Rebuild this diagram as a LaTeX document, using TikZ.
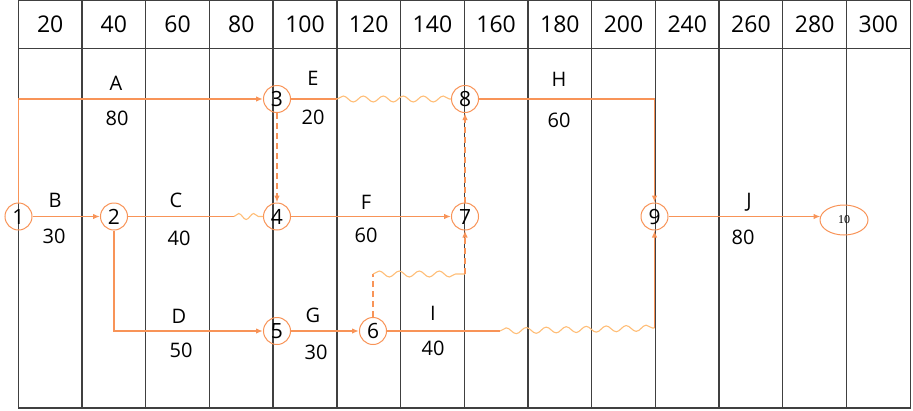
\documentclass[tikz,border=0pt]{standalone}
\usepackage{fontspec}
\setmainfont{Open Sans}
\newfontfamily\serifsmall{Liberation Serif}
\usetikzlibrary{decorations.pathmorphing,shapes.geometric,arrows.meta}
\definecolor{edgeor}{RGB}{248,148,88}
\definecolor{waveor}{RGB}{255,190,120}
\definecolor{gridc}{RGB}{64,64,64}
\begin{document}
\begin{tikzpicture}[x=1pt,y=-1pt,
  ev/.style={circle,draw=edgeor,line width=1pt,minimum size=27pt,inner sep=0pt,font=\fontsize{21}{21}\selectfont},
  act/.style={draw=edgeor,line width=1.4pt},
  arr/.style={act,-{Latex[length=7pt,width=5.5pt]}},
  dum/.style={arr,dash pattern=on 6pt off 4pt},
  dline/.style={act,dash pattern=on 6pt off 4pt},
  wave/.style={draw=waveor,line width=1.1pt,decorate,decoration={snake,amplitude=3pt,segment length=20pt}},
  lbl/.style={font=\fontsize{20}{20}\selectfont},
  hdr/.style={font=\fontsize{23}{23}\selectfont},
  gridl/.style={draw=gridc,line width=1.3pt}]
\useasboundingbox (0,0) rectangle (913,410);
% grid
\draw[gridl] (18.3,0.7) rectangle (910.5,408);
\draw[gridl] (18.3,48.3) -- (910.5,48.3);
\foreach \i in {1,...,13} \draw[gridl] ({18.3+63.71*\i},0.7) -- ({18.3+63.71*\i},408);
% header
\foreach \v [count=\i from 0] in {20,40,60,80,100,120,140,160,180,200,240,260,280,300}
  \node[hdr] (h\i) at ({18.3+63.71*(\i+0.5)},24) {\v};
% events
\node[ev] (n1) at (18.5,216.5) {1};
\node[ev] (n2) at (114,216.5) {2};
\node[ev] (n3) at (277,99) {3};
\node[ev] (n4) at (277,216.5) {4};
\node[ev] (n5) at (277,331) {5};
\node[ev] (n6) at (373,331) {6};
\node[ev] (n7) at (465,216.5) {7};
\node[ev] (n8) at (465,99) {8};
\node[ev] (n9) at (654.5,216.5) {9};
\node[ellipse,draw=edgeor,line width=1pt,minimum width=48pt,minimum height=30pt,inner sep=0pt,font=\serifsmall\fontsize{12}{12}\selectfont] (n10) at (844,220) {10};
% coordinates
\coordinate (e1) at (337,99);
\coordinate (c1) at (234,216.5);
\coordinate (g1) at (373,274);
\coordinate (g2) at (465,274);
\coordinate (i1) at (500,331);
\coordinate (i2) at (654.5,328);
\coordinate (j1) at (820.5,216.5);
% activities
\draw[arr] (n1.north) -- (n1.north |- n3) -- (n3.west);
\draw[act] (n3.east) -- (e1);
\draw[wave] (e1) -- (n8.west);
\draw[arr] (n8.east) -- (n8.east -| n9) -- (n9.north);
\draw[dum] (n3.south) -- (n4.north);
\draw[arr] (n1) -- (n2);
\draw[act] (n2.east) -- (c1);
\draw[wave,decoration={snake,amplitude=3pt,segment length=15pt}] (c1) -- (n4.west);
\draw[arr] (n4.east) -- (n7.west);
\draw[dum] (n7.north) -- (n8.south);
\draw[arr] (n2.south) -- (n2.south |- n5) -- (n5.west);
\draw[arr] (n5) -- (n6);
\draw[dline] (n6.north) -- (g1);
\draw[wave] (g1) -- (g2);
\draw[dum] (g2) -- (n7.south);
\draw[act] (n6.east) -- (i1);
\draw[wave] (i1) -- (i2);
\draw[arr] (i2) -- (n9.south);
\draw[arr] (n9.east) -- (j1);
% labels
\node[lbl] (lA) at (116,83) {A};
\node[lbl] (dA) at (117,118) {80};
\node[lbl] (lE) at (313,78) {E};
\node[lbl] (dE) at (313,117) {20};
\node[lbl] (lH) at (559,79) {H};
\node[lbl] (dH) at (559,120) {60};
\node[lbl] (lB) at (55,200) {B};
\node[lbl] (dB) at (54,236) {30};
\node[lbl] (lC) at (176,200) {C};
\node[lbl] (dC) at (179,238) {40};
\node[lbl] (lF) at (366,202) {F};
\node[lbl] (dF) at (366,235) {60};
\node[lbl] (lD) at (179,316) {D};
\node[lbl] (dD) at (181,350) {50};
\node[lbl] (lG) at (313,315) {G};
\node[lbl] (dG) at (316,352) {30};
\node[lbl] (lI) at (433,313) {I};
\node[lbl] (dI) at (433,348) {40};
\node[lbl] (lJ) at (749,202) {J};
\node[lbl] (dJ) at (743,237) {80};
\end{tikzpicture}
\end{document}
